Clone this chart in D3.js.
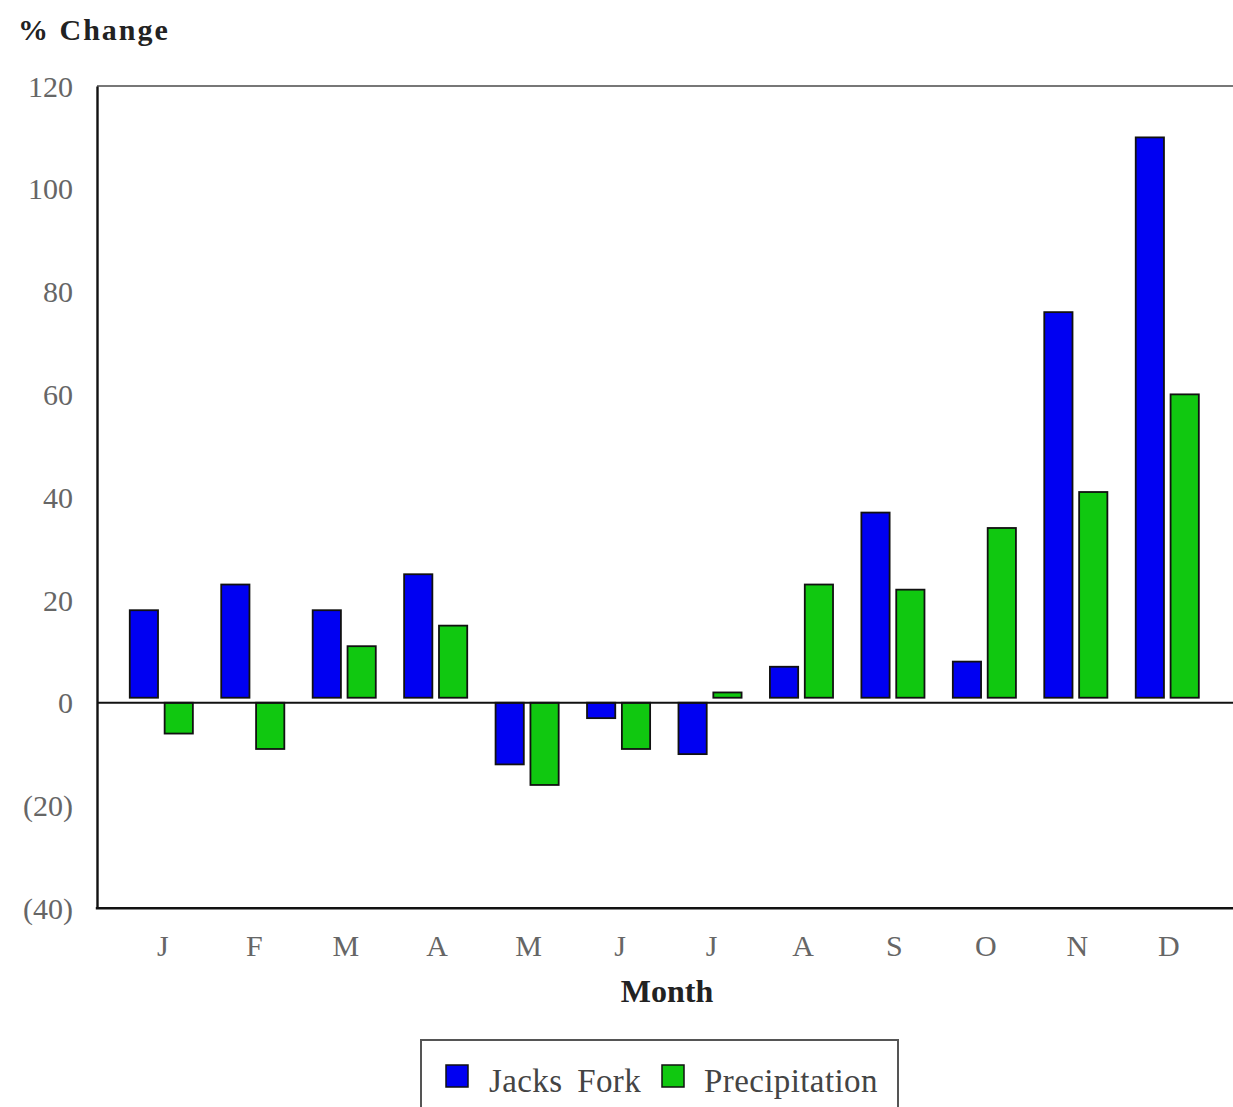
<!DOCTYPE html>
<html><head><meta charset="utf-8">
<script src="https://cdn.jsdelivr.net/npm/d3@7"></script>
<style>
html,body{margin:0;padding:0;background:#fff;}
svg{display:block;}
</style></head>
<body>
<svg id="chart" width="1233" height="1107"></svg>
<script>
const months = ["J","F","M","A","M","J","J","A","S","O","N","D"];
const seriesNames = ["Jacks Fork","Precipitation"];
const jacksFork = [18, 23, 18, 25, -12, -3, -10, 7, 37, 8, 76, 110];
const precipitation = [-6, -9, 11, 15, -16, -9, 2, 23, 22, 34, 41, 60];
const yTicks = [120, 100, 80, 60, 40, 20, 0, -20, -40];
const seriesColors = ["#0000f2", "#10c810"];

(function () {
const svg = d3.select("#chart");
const plotLeft = 97, plotRight = 1245, plotTop = 86, plotBottom = 908.3;

const y = d3.scaleLinear().domain([-40, 120]).range([plotBottom, plotTop]);
const idx = months.map((m, i) => i);
const x0 = d3.scaleBand().domain(idx).range([115.6, 1213]).paddingInner(0.31).paddingOuter(0.155);
const x1 = d3.scaleBand().domain([0, 1]).range([0, x0.bandwidth()]).paddingInner(0.19);

const serif = "'Liberation Serif','DejaVu Serif',serif";

// plot frame top
svg.append("line").attr("x1", plotLeft).attr("x2", plotRight).attr("y1", plotTop).attr("y2", plotTop)
  .attr("stroke", "#777").attr("stroke-width", 2);

// bars
const data = [jacksFork, precipitation];
const gBars = svg.append("g");
data.forEach((vals, s) => {
  gBars.selectAll(null).data(vals).enter().append("rect")
    .attr("x", (d, i) => x0(i) + x1(s))
    .attr("width", x1.bandwidth())
    .attr("y", d => d >= 0 ? y(d) : y(0))
    .attr("height", d => d >= 0 ? Math.max(0, y(0) - 5 - y(d)) : y(d) - y(0))
    .attr("fill", seriesColors[s])
    .attr("stroke", "#111")
    .attr("stroke-width", 1.8);
});

// zero line
svg.append("line").attr("x1", plotLeft).attr("x2", plotRight).attr("y1", y(0)).attr("y2", y(0))
  .attr("stroke", "#111").attr("stroke-width", 2);

// y axis
const fmt = d => d < 0 ? "(" + Math.abs(d) + ")" : String(d);
const yAxis = svg.append("g").attr("transform", `translate(${plotLeft},0)`)
  .call(d3.axisLeft(y).tickValues(yTicks).tickFormat(fmt).tickSize(0).tickPadding(24));
yAxis.select(".domain").attr("stroke", "#111").attr("stroke-width", 2.4);
yAxis.selectAll("text").attr("font-family", serif).attr("font-size", 30)
  .attr("fill", "#666").attr("dy", "0.34em");

// x axis
const xAxis = svg.append("g").attr("transform", `translate(0,${plotBottom})`)
  .call(d3.axisBottom(x0).tickFormat(i => months[i]).tickSize(0).tickPadding(26));
xAxis.select(".domain").remove();
svg.append("line").attr("x1", plotLeft - 1.2).attr("x2", plotRight).attr("y1", plotBottom).attr("y2", plotBottom)
  .attr("stroke", "#111").attr("stroke-width", 2.4);
xAxis.selectAll("text").attr("font-family", serif).attr("font-size", 30).attr("fill", "#666")
  .attr("dx", 1.5);

// titles
svg.append("text").attr("x", 18).attr("y", 40).text("% Change")
  .attr("font-family", serif).attr("font-weight", "bold").attr("font-size", 30)
  .attr("letter-spacing", 2).attr("fill", "#222");
svg.append("text").attr("x", 667).attr("y", 1002).attr("text-anchor", "middle").text("Month")
  .attr("font-family", serif).attr("font-weight", "bold").attr("font-size", 32).attr("fill", "#222");

// legend
const lg = svg.append("g");
lg.append("rect").attr("x", 421).attr("y", 1040).attr("width", 477).attr("height", 90)
  .attr("fill", "#fff").attr("stroke", "#555").attr("stroke-width", 2);
const legendX = [446, 662];
const legendTextX = [489, 704];
seriesNames.forEach((name, s) => {
  lg.append("rect").attr("x", legendX[s]).attr("y", 1065).attr("width", 22).attr("height", 22)
    .attr("fill", seriesColors[s]).attr("stroke", "#111").attr("stroke-width", 1.5);
  lg.append("text").attr("x", legendTextX[s]).attr("y", 1092).text(name)
    .attr("font-family", serif).attr("font-size", 33).attr("fill", "#444")
    .attr("letter-spacing", 0.4).attr("word-spacing", 6);
});
})();
</script>
</body></html>
